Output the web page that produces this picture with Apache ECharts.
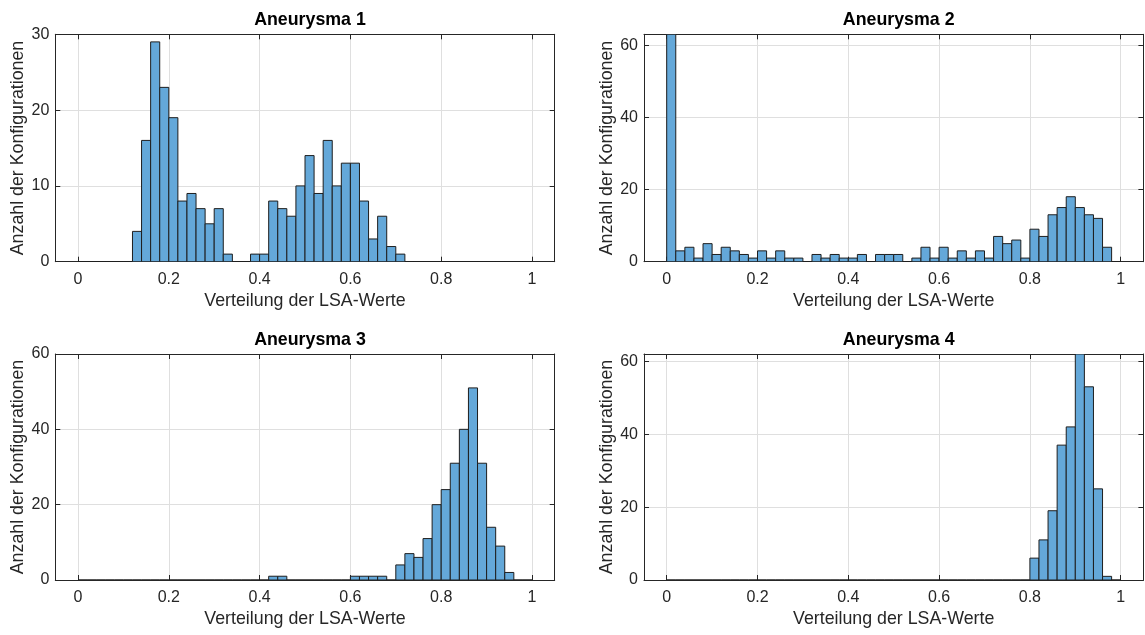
<!DOCTYPE html>
<html>
<head>
<meta charset="utf-8">
<script src="https://cdn.jsdelivr.net/npm/echarts@6/dist/echarts.min.js"></script>
<style>
html,body{margin:0;padding:0;background:#fff;}
#chart{width:1145px;height:635px;}
</style>
</head>
<body>
<div id="chart"></div>
<script>
// ---- data ----
const binEdges = [0,0.02,0.04,0.06,0.08,0.1,0.12,0.14,0.16,0.18,0.2,0.22,0.24,0.26,0.28,0.3,0.32,0.34,0.36,0.38,0.4,0.42,0.44,0.46,0.48,0.5,0.52,0.54,0.56,0.58,0.6,0.62,0.64,0.66,0.68,0.7,0.72,0.74,0.76,0.78,0.8,0.82,0.84,0.86,0.88,0.9,0.92,0.94,0.96,0.98,1];
const titles = ['Aneurysma 1','Aneurysma 2','Aneurysma 3','Aneurysma 4'];
const aneurysma1 = [0,0,0,0,0,0,4,16,29,23, 19,8,9,7,5,7,1,0,0,1, 1,8,7,6,10,14,9,16,10,13, 13,8,3,6,2,1,0,0,0,0, 0,0,0,0,0,0,0,0,0,0];
const aneurysma2 = [63,3,4,1,5,2,4,3,2,1, 3,1,3,1,1,0,2,1,2,1, 1,2,0,2,2,2,0,1,4,1, 4,1,3,1,3,1,7,5,6,1, 9,7,13,15,18,15,13,12,4,0];
const aneurysma3 = [0,0,0,0,0,0,0,0,0,0, 0,0,0,0,0,0,0,0,0,0, 0,1,1,0,0,0,0,0,0,0, 1,1,1,1,0,4,7,6,11,20, 24,31,40,51,31,14,9,2,0,0];
const aneurysma4 = [0,0,0,0,0,0,0,0,0,0, 0,0,0,0,0,0,0,0,0,0, 0,0,0,0,0,0,0,0,0,0, 0,0,0,0,0,0,0,0,0,0, 6,11,19,37,42,62,53,25,1,0];
const xTicks = [0,0.2,0.4,0.6,0.8,1];
const yMax = [30,63,60,62];
const yTicks = [[0,10,20,30],[0,20,40,60],[0,20,40,60],[0,20,40,60]];
const xLabel = 'Verteilung der LSA-Werte';
const yLabel = 'Anzahl der Konfigurationen';

// ---- layout ----
const FONT = '"Liberation Sans", Arial, Helvetica, sans-serif';
const grids = [
  {left:55.3, top:34.3, width:499.4, height:227.4},
  {left:644, top:34.3, width:499.4, height:227.4},
  {left:55.3, top:354, width:499.4, height:226},
  {left:644, top:354, width:499.4, height:226}
];
const allData = [aneurysma1, aneurysma2, aneurysma3, aneurysma4];
const AX = '#262626';
const GRIDC = '#dfdfdf';

const option = {
  animation:false,
  backgroundColor:'#fff',
  title: [], grid: [], xAxis: [], yAxis: [], series: []
};

grids.forEach((g, i) => {
  option.grid.push({left:g.left, top:g.top, width:g.width, height:g.height, containLabel:false, show:false});
  option.title.push({
    text: titles[i], left: g.left + g.width/2, top: g.top - 28, textAlign:'center',
    textStyle:{fontFamily:FONT, fontSize:17.8, fontWeight:'bold', color:'#000'}
  });
  option.xAxis.push({
    type:'value', gridIndex:i, min:-0.05, max:1.05, position:'bottom',
    name: xLabel, nameLocation:'middle', nameGap:30,
    nameTextStyle:{fontFamily:FONT, fontSize:17.8, color:AX},
    axisLine:{show:true, onZero:false, lineStyle:{color:AX, width:1}},
    axisTick:{show:true, inside:true, length:5, customValues:xTicks, lineStyle:{color:AX}},
    axisLabel:{show:true, customValues:xTicks, margin:10, fontFamily:FONT, fontSize:16, color:AX,
      formatter:v => String(+v.toFixed(2))},
    splitLine:{show:true, lineStyle:{color:GRIDC, width:1}}
  });
  option.xAxis.push({
    type:'value', gridIndex:i, min:-0.05, max:1.05, position:'top',
    axisLine:{show:true, onZero:false, lineStyle:{color:AX, width:1}},
    axisTick:{show:true, inside:true, length:5, customValues:xTicks, lineStyle:{color:AX}},
    axisLabel:{show:false}, splitLine:{show:false}
  });
  option.yAxis.push({
    type:'value', gridIndex:i, min:0, max:yMax[i], position:'left',
    name: yLabel, nameLocation:'middle', nameGap:28, nameRotate:90,
    nameTextStyle:{fontFamily:FONT, fontSize:17.8, color:AX},
    axisLine:{show:true, onZero:false, lineStyle:{color:AX, width:1}},
    axisTick:{show:true, inside:true, length:5, customValues:yTicks[i], lineStyle:{color:AX}},
    axisLabel:{show:true, customValues:yTicks[i], margin:6, fontFamily:FONT, fontSize:16, color:AX},
    splitLine:{show:true, lineStyle:{color:GRIDC, width:1}}
  });
  option.yAxis.push({
    type:'value', gridIndex:i, min:0, max:yMax[i], position:'right',
    axisLine:{show:true, onZero:false, lineStyle:{color:AX, width:1}},
    axisTick:{show:true, inside:true, length:5, customValues:yTicks[i], lineStyle:{color:AX}},
    axisLabel:{show:false}, splitLine:{show:false}
  });
  const d = allData[i].map((c, k) => [binEdges[k], binEdges[k+1], c]);
  option.series.push({
    type:'custom', xAxisIndex:2*i, yAxisIndex:2*i, data:d, clip:true,
    renderItem:(params, api) => {
      const p0 = api.coord([api.value(0), api.value(2)]);
      const p1 = api.coord([api.value(1), 0]);
      return {
        type:'rect',
        shape:{x:p0[0], y:p0[1], width:p1[0]-p0[0], height:p1[1]-p0[1]},
        style:{fill:'#64a8d9', stroke:'#1e1e1e', lineWidth:1}
      };
    }
  });
});

const chart = echarts.init(document.getElementById('chart'), null, {renderer:'canvas'});
chart.setOption(option);
</script>
</body>
</html>
